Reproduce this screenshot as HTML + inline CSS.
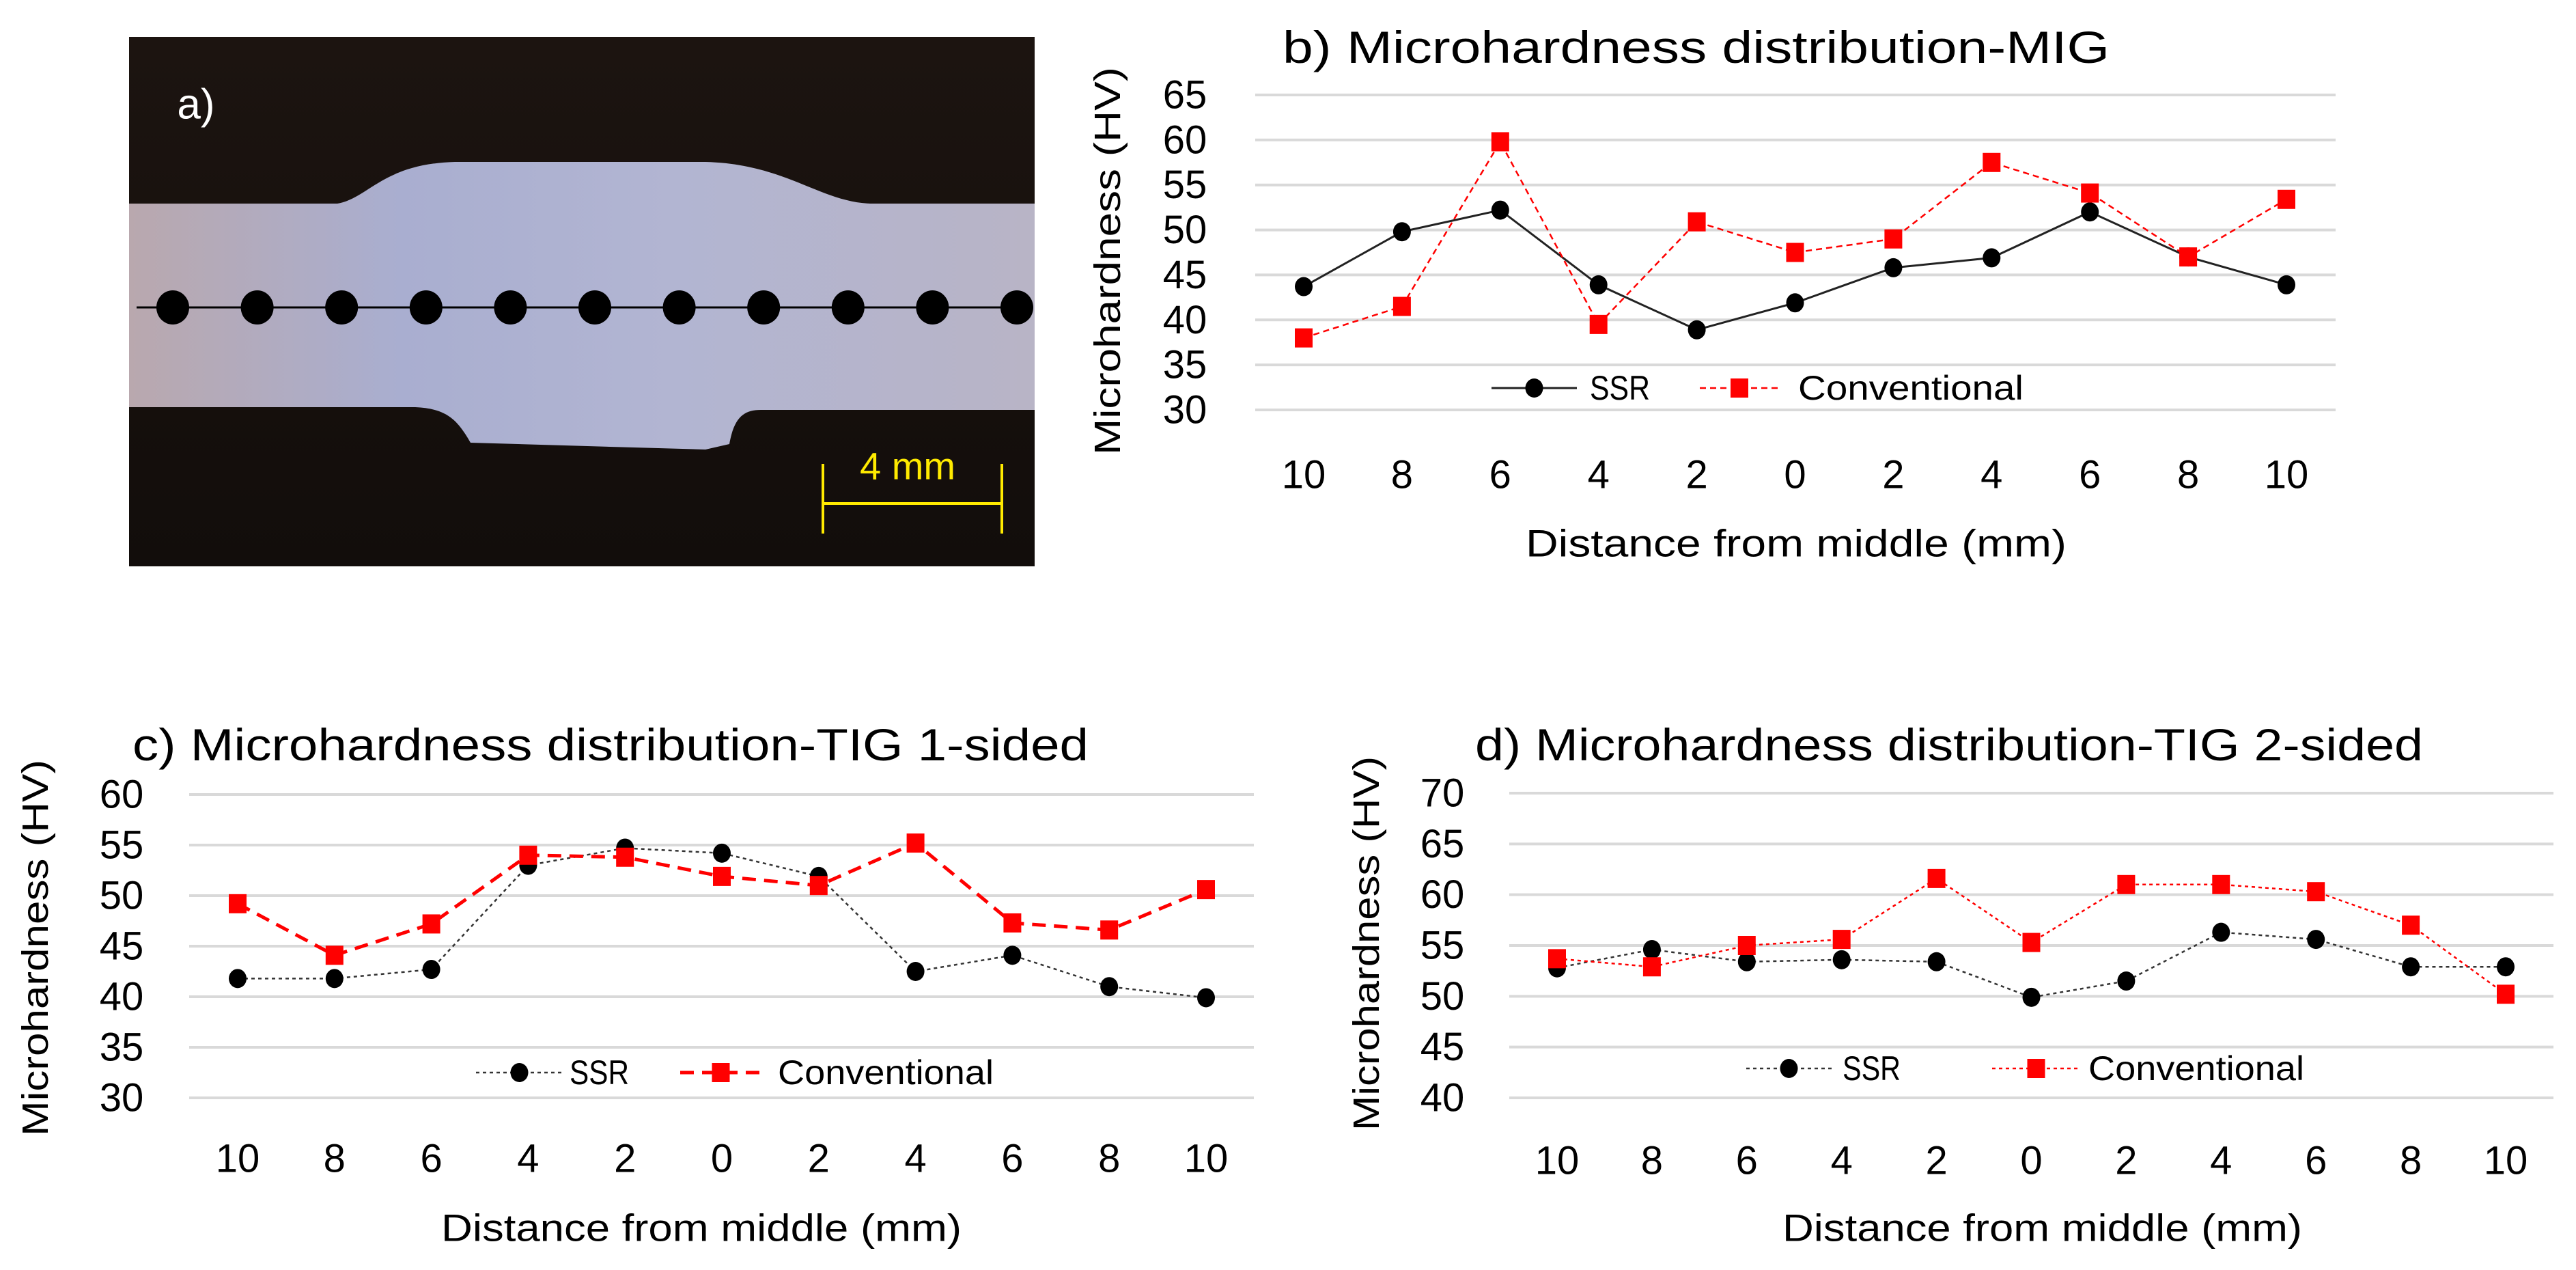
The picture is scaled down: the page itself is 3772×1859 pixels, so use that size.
<!DOCTYPE html>
<html><head><meta charset="utf-8"><style>
html,body{margin:0;padding:0;background:#fff;}
svg{display:block;font-family:"Liberation Sans",sans-serif;}
</style></head><body>
<svg id="fig" width="3772" height="1859" viewBox="0 0 3772 1859" xmlns="http://www.w3.org/2000/svg">
<defs>
<linearGradient id="plateGrad" x1="0" x2="1" y1="0" y2="0">
<stop offset="0" stop-color="#b9a8ae"/><stop offset="0.3" stop-color="#a9aed0"/><stop offset="0.6" stop-color="#b2b5d2"/><stop offset="1" stop-color="#b8b4c6"/>
</linearGradient>
<linearGradient id="bgGrad" x1="0" x2="0" y1="0" y2="1">
<stop offset="0" stop-color="#1c1410"/><stop offset="1" stop-color="#120d0b"/>
</linearGradient>
</defs>
<g>
<rect x="189" y="54" width="1326" height="775" fill="url(#bgGrad)"/>
<path d="M189,298 L494,298 C540,290 560,240 666,237 L1033,237 C1150,240 1200,295 1274,298 L1515,298 L1515,600 L1114,600 C1090,600 1075,610 1068,650 L1033,658 L689,648 C670,615 655,598 608,596 L189,596 Z" fill="url(#plateGrad)"/>
<text x="287" y="153" font-size="62" fill="#fff" dominant-baseline="central" text-anchor="middle">a)</text>
<line x1="200" y1="450" x2="1505" y2="450" stroke="#000" stroke-width="3"/>
<g id="dots"></g>
<text x="1329" y="682" font-size="56" fill="#ffea00" dominant-baseline="central" text-anchor="middle">4 mm</text>
<g stroke="#ffea00" stroke-width="4">
<line x1="1205" y1="737" x2="1467" y2="737"/><line x1="1205" y1="679" x2="1205" y2="781"/><line x1="1467" y1="679" x2="1467" y2="781"/>
</g>
</g>
<g id="chartB"></g>
<g id="chartC"></g>
<g id="chartD"></g>
</svg>
<script>
const categories = ["10","8","6","4","2","0","2","4","6","8","10"];
const ssrB = [43.7,49.8,52.2,43.9,38.9,41.9,45.8,46.9,52.0,47.0,43.9];
const convB = [38.0,41.5,59.8,39.5,50.9,47.5,49.0,57.5,54.1,47.0,53.4];
const ticksB = [30,35,40,45,50,55,60,65];
const ssrC = [41.8,41.8,42.7,53.0,54.7,54.2,51.9,42.5,44.1,41.0,39.9];
const convC = [49.2,44.1,47.2,54.0,53.8,51.9,51.0,55.2,47.3,46.6,50.6];
const ticksC = [30,35,40,45,50,55,60];
const ssrD = [52.8,54.6,53.4,53.6,53.4,49.9,51.5,56.3,55.6,52.9,52.9];
const convD = [53.7,52.9,55.0,55.6,61.6,55.3,61.0,61.0,60.3,57.0,50.2];
const ticksD = [40,45,50,55,60,65,70];
const titleB = "b)  Microhardness distribution-MIG";
const titleC = "c) Microhardness distribution-TIG 1-sided";
const titleD = "d) Microhardness distribution-TIG 2-sided";

const NS = "http://www.w3.org/2000/svg";
function mk(parent, tag, attrs, text){
  const e = document.createElementNS(NS, tag);
  for (const k in attrs) e.setAttribute(k, attrs[k]);
  if (text !== undefined) e.textContent = text;
  parent.appendChild(e);
  return e;
}
const dotsG = document.getElementById('dots');
for (let i = 0; i < categories.length; i++) {
  const c = mk(dotsG, 'ellipse', {cx: 253 + i*123.6, cy: 450, rx: 24, ry: 25, fill: '#000'});
  
  
}

function chart(g, o, ssr, conv, ticks, title){
  const yS = v => o.yBot - (v - ticks[0]) / (ticks[ticks.length-1] - ticks[0]) * (o.yBot - o.yTop);
  const xS = i => o.x0 + i * o.dx;
  ticks.forEach(t => {
    const l = mk(g, 'line', {x1: o.gl, x2: o.gr, y1: yS(t), y2: yS(t), stroke: '#d9d9d9', 'stroke-width': 4});
    
    
    const tx = mk(g, 'text', {x: o.tickX, y: yS(t), 'font-size': 58, 'text-anchor': 'middle', 'dominant-baseline': 'central', fill: '#000'}, String(t));
    
    
  });
  categories.forEach((c, i) => {
    const tx = mk(g, 'text', {x: xS(i), y: o.xLabY, 'font-size': 58, 'text-anchor': 'middle', 'dominant-baseline': 'central', fill: '#000'}, c);
    
    
  });
  const tt = mk(g, 'text', {x: o.tX0, y: o.tY, 'font-size': 66, 'dominant-baseline': 'central', textLength: o.tX1 - o.tX0, lengthAdjust: 'spacingAndGlyphs', fill: '#000'}, title);
  
  
  const xt = mk(g, 'text', {x: o.xtX0, y: o.xtY, 'font-size': 56, 'dominant-baseline': 'central', textLength: o.xtX1 - o.xtX0, lengthAdjust: 'spacingAndGlyphs', fill: '#000'}, 'Distance from middle (mm)');
  
  
  const yt = mk(g, 'text', {x: 0, y: 0, 'font-size': 54, 'dominant-baseline': 'central', textLength: o.ytY1 - o.ytY0, lengthAdjust: 'spacingAndGlyphs', fill: '#000', transform: `translate(${o.ytX},${o.ytY1}) rotate(-90)`}, 'Microhardness  (HV)');
  
  
  const pts = arr => arr.map((v, i) => xS(i) + ',' + yS(v)).join(' ');
  const ls = mk(g, 'polyline', {points: pts(ssr), fill: 'none', stroke: o.sStroke, 'stroke-width': o.sW, 'stroke-dasharray': o.sDash});
  
  
  const lc = mk(g, 'polyline', {points: pts(conv), fill: 'none', stroke: '#ff0000', 'stroke-width': o.cW, 'stroke-dasharray': o.cDash});
  
  
  ssr.forEach((v, i) => {
    const c = mk(g, 'ellipse', {cx: xS(i), cy: yS(v), rx: 13, ry: 14, fill: '#000'});
    
    
  });
  conv.forEach((v, i) => {
    const r = mk(g, 'rect', {x: xS(i) - 13, y: yS(v) - 14, width: 26, height: 28, fill: '#ff0000'});
    
    
  });
  const L = o.leg;
  const lg = mk(g, 'g', {});
  
  
  const l1 = mk(lg, 'line', {x1: L.s0, x2: L.s1, y1: L.y, y2: L.y, stroke: o.sStroke, 'stroke-width': o.sW, 'stroke-dasharray': o.sDash});
  
  
  const d1 = mk(lg, 'ellipse', {cx: (L.s0 + L.s1) / 2, cy: L.y, rx: 13, ry: 14, fill: '#000'});
  
  
  const t1 = mk(lg, 'text', {x: L.st0, y: L.y, 'font-size': 50, 'dominant-baseline': 'central', textLength: L.st1 - L.st0, lengthAdjust: 'spacingAndGlyphs'}, 'SSR');
  
  
  const l2 = mk(lg, 'line', {x1: L.c0, x2: L.c1, y1: L.y, y2: L.y, stroke: '#ff0000', 'stroke-width': o.cW, 'stroke-dasharray': o.cDash});
  
  
  const d2 = mk(lg, 'rect', {x: (L.c0 + L.c1) / 2 - 13, y: L.y - 14, width: 26, height: 28, fill: '#ff0000'});
  
  
  const t2 = mk(lg, 'text', {x: L.ct0, y: L.y, 'font-size': 50, 'dominant-baseline': 'central', textLength: L.ct1 - L.ct0, lengthAdjust: 'spacingAndGlyphs'}, 'Conventional');
  
  
}

chart(document.getElementById('chartB'), {
  yTop: 139, yBot: 600, gl: 1838, gr: 3420, x0: 1909, dx: 143.9, tickX: 1735, xLabY: 695,
  tX0: 1878, tX1: 3089, tY: 69, xtX0: 2234, xtX1: 3026, xtY: 795, ytX: 1622, ytY0: 98, ytY1: 666,
  sStroke: '#222', sW: 3, sDash: 'none', cW: 2.5, cDash: '9,6',
  leg: {y: 568, s0: 2184, s1: 2309, st0: 2328, st1: 2416, c0: 2489, c1: 2605, ct0: 2633, ct1: 2963}
}, ssrB, convB, ticksB, titleB);

chart(document.getElementById('chartC'), {
  yTop: 1163, yBot: 1607, gl: 277, gr: 1836, x0: 348, dx: 141.8, tickX: 178, xLabY: 1696,
  tX0: 194, tX1: 1594, tY: 1090, xtX0: 646, xtX1: 1408, xtY: 1797, ytX: 52, ytY0: 1112, ytY1: 1663,
  sStroke: '#333', sW: 2.5, sDash: '5,5', cW: 5, cDash: '20,12',
  leg: {y: 1570, s0: 697, s1: 824, st0: 834, st1: 921, c0: 996, c1: 1115, ct0: 1139, ct1: 1455}
}, ssrC, convC, ticksC, titleC);

chart(document.getElementById('chartD'), {
  yTop: 1161, yBot: 1607, gl: 2210, gr: 3739, x0: 2280, dx: 138.9, tickX: 2112, xLabY: 1699,
  tX0: 2160, tX1: 3548, tY: 1090, xtX0: 2610, xtX1: 3371, xtY: 1797, ytX: 2001, ytY0: 1107, ytY1: 1655,
  sStroke: '#333', sW: 2.5, sDash: '5,5', cW: 2.5, cDash: '5,5',
  leg: {y: 1564, s0: 2557, s1: 2682, st0: 2698, st1: 2783, c0: 2917, c1: 3046, ct0: 3058, ct1: 3374}
}, ssrD, convD, ticksD, titleD);
</script>
</body></html>
